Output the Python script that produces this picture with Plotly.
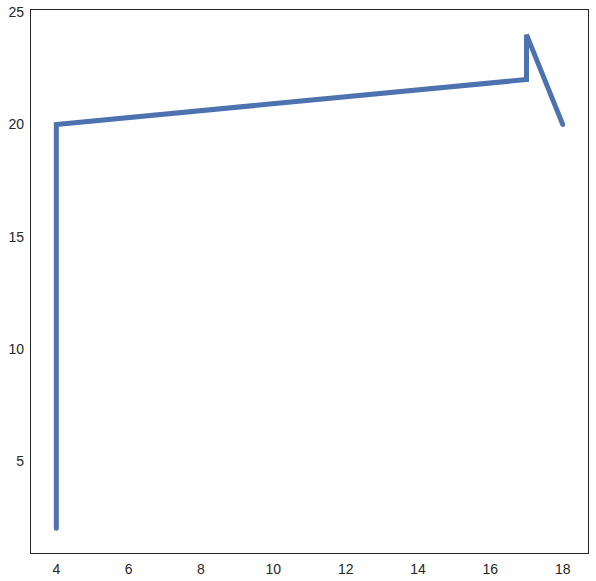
import plotly.graph_objects as go

# 折线数据
x_vals = [4, 4, 17, 17, 18]
y_vals = [2, 20, 22, 24, 20]

x_ticks = [4, 6, 8, 10, 12, 14, 16, 18]
y_ticks = [5, 10, 15, 20, 25]

fig = go.Figure()
fig.add_trace(go.Scatter(
    x=x_vals, y=y_vals,
    mode='lines',
    line=dict(color='#4c72b0', width=5),
    hoverinfo='skip'
))

axis_style = dict(
    showgrid=False, zeroline=False, automargin=False,
    showline=True, linecolor='#262626', linewidth=1.2, mirror=True,
    ticks='outside', ticklen=3, tickcolor='rgba(0,0,0,0)',
    tickfont=dict(family='Liberation Sans, Arial', size=14, color='#262626'),
)

fig.update_layout(
    width=596, height=581,
    margin=dict(l=31, r=8, t=10, b=28),
    plot_bgcolor='white', paper_bgcolor='white',
    showlegend=False,
    xaxis=dict(range=[3.3, 18.7], tickvals=x_ticks, **axis_style),
    yaxis=dict(range=[0.9, 25.1], tickvals=y_ticks, **axis_style),
)

# 去掉页面边距, 线端改为圆头
js = ("document.body.style.margin='0';"
      "document.querySelectorAll('.scatterlayer path.js-line')"
      ".forEach(function(p){p.style.strokeLinecap='round';});")
fig.write_html("out.html", config={'displayModeBar': False}, post_script=js)
